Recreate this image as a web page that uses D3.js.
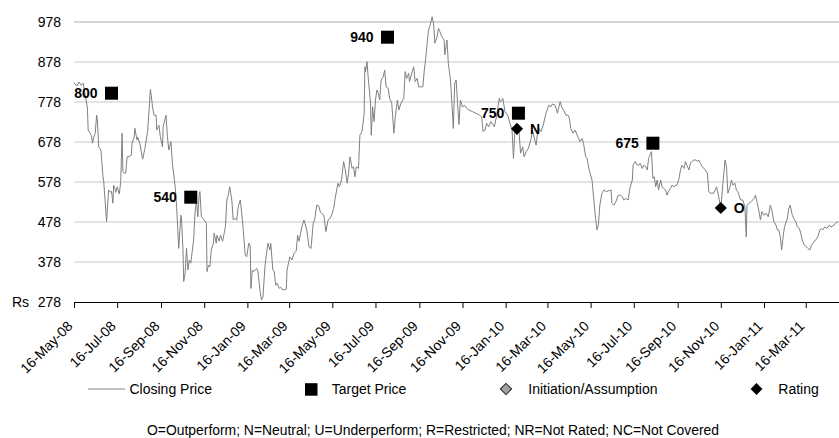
<!DOCTYPE html>
<html><head><meta charset="utf-8">
<script src="https://cdn.jsdelivr.net/npm/d3@7"></script>
<style>
body{margin:0;background:#fff}
svg{display:block;font-family:"Liberation Sans",Arial,Helvetica,sans-serif}
</style>
</head><body>
<svg id="chart" width="839" height="438"></svg>
<script>
const closeDates = [
"2008-05-16","2008-05-20","2008-05-23","2008-05-26","2008-05-29","2008-06-02","2008-06-04","2008-06-05","2008-06-08","2008-06-10",
"2008-06-11","2008-06-13","2008-06-15","2008-06-17","2008-06-18","2008-06-20","2008-06-23","2008-06-26","2008-06-27","2008-07-01",
"2008-07-03","2008-07-04","2008-07-07","2008-07-08","2008-07-10","2008-07-11","2008-07-13","2008-07-14","2008-07-16","2008-07-19",
"2008-07-21","2008-07-23","2008-07-24","2008-07-26","2008-07-28","2008-07-30","2008-08-02","2008-08-05","2008-08-06","2008-08-09",
"2008-08-10","2008-08-13","2008-08-14","2008-08-17","2008-08-21","2008-08-24","2008-08-28","2008-09-01","2008-09-04","2008-09-06",
"2008-09-09","2008-09-10","2008-09-13","2008-09-15","2008-09-18","2008-09-19","2008-09-23","2008-09-25","2008-09-27","2008-09-30",
"2008-10-02","2008-10-06","2008-10-08","2008-10-11","2008-10-14","2008-10-15","2008-10-17","2008-10-18","2008-10-20","2008-10-22",
"2008-10-24","2008-10-26","2008-10-28","2008-11-01","2008-11-03","2008-11-05","2008-11-07","2008-11-09","2008-11-10","2008-11-12",
"2008-11-16","2008-11-19","2008-11-20","2008-11-22","2008-11-24","2008-11-26","2008-11-29","2008-11-30","2008-12-03","2008-12-04",
"2008-12-07","2008-12-09","2008-12-12","2008-12-16","2008-12-18","2008-12-20","2008-12-22","2008-12-25","2008-12-27","2008-12-29",
"2009-01-01","2009-01-03","2009-01-06","2009-01-09","2009-01-13","2009-01-15","2009-01-18","2009-01-20","2009-01-21","2009-01-23",
"2009-01-25","2009-01-29","2009-01-31","2009-02-03","2009-02-05","2009-02-07","2009-02-10","2009-02-14","2009-02-17","2009-02-18",
"2009-02-21","2009-02-23","2009-02-25","2009-02-27","2009-03-02","2009-03-04","2009-03-07","2009-03-12","2009-03-13","2009-03-17",
"2009-03-20","2009-03-23","2009-03-26","2009-03-28","2009-03-30","2009-04-03","2009-04-06","2009-04-10","2009-04-13","2009-04-16",
"2009-04-17","2009-04-19","2009-04-21","2009-04-24","2009-04-27","2009-04-29","2009-05-01","2009-05-04","2009-05-07","2009-05-10",
"2009-05-13","2009-05-16","2009-05-18","2009-05-20","2009-05-24","2009-05-26","2009-05-29","2009-06-01","2009-06-03","2009-06-06",
"2009-06-08","2009-06-10","2009-06-13","2009-06-15","2009-06-17","2009-06-19","2009-06-22","2009-06-24","2009-06-27","2009-06-30",
"2009-07-01","2009-07-02","2009-07-04","2009-07-06","2009-07-09","2009-07-10","2009-07-12","2009-07-14","2009-07-16","2009-07-18",
"2009-07-20","2009-07-22","2009-07-24","2009-07-27","2009-07-29","2009-07-31","2009-08-03","2009-08-05","2009-08-08","2009-08-11",
"2009-08-13","2009-08-16","2009-08-18","2009-08-21","2009-08-25","2009-08-27","2009-08-29","2009-09-01","2009-09-02","2009-09-06",
"2009-09-08","2009-09-10","2009-09-13","2009-09-15","2009-09-19","2009-09-21","2009-09-23","2009-09-25","2009-09-27","2009-09-29",
"2009-10-02","2009-10-04","2009-10-06","2009-10-08","2009-10-11","2009-10-13","2009-10-15","2009-10-18","2009-10-21","2009-10-22",
"2009-10-25","2009-10-27","2009-10-30","2009-11-01","2009-11-03","2009-11-05","2009-11-07","2009-11-09","2009-11-11","2009-11-13",
"2009-11-16","2009-11-19","2009-11-22","2009-11-25","2009-11-30","2009-12-05","2009-12-10","2009-12-13","2009-12-15","2009-12-18",
"2009-12-20","2009-12-23","2009-12-26","2009-12-31","2010-01-03","2010-01-07","2010-01-08","2010-01-11","2010-01-12","2010-01-15",
"2010-01-19","2010-01-22","2010-01-25","2010-01-27","2010-01-29","2010-02-01","2010-02-04","2010-02-06","2010-02-09","2010-02-11",
"2010-02-14","2010-02-17","2010-02-21","2010-02-23","2010-02-25","2010-02-28","2010-03-02","2010-03-04","2010-03-07","2010-03-10",
"2010-03-14","2010-03-18","2010-03-21","2010-03-23","2010-03-27","2010-03-30","2010-04-03","2010-04-05","2010-04-09","2010-04-11",
"2010-04-14","2010-04-16","2010-04-18","2010-04-21","2010-04-24","2010-04-28","2010-05-01","2010-05-04","2010-05-06","2010-05-09",
"2010-05-11","2010-05-14","2010-05-18","2010-05-21","2010-05-23","2010-05-25","2010-05-27","2010-05-29","2010-06-01","2010-06-04",
"2010-06-07","2010-06-10","2010-06-14","2010-06-15","2010-06-18","2010-06-21","2010-06-24","2010-06-27","2010-06-30","2010-07-02",
"2010-07-05","2010-07-08","2010-07-11","2010-07-14","2010-07-15","2010-07-18","2010-07-21","2010-07-23","2010-07-25","2010-07-28",
"2010-07-30","2010-08-02","2010-08-04","2010-08-06","2010-08-09","2010-08-10","2010-08-12","2010-08-14","2010-08-16","2010-08-18",
"2010-08-20","2010-08-23","2010-08-25","2010-08-27","2010-08-30","2010-09-01","2010-09-03","2010-09-06","2010-09-08","2010-09-11",
"2010-09-13","2010-09-15","2010-09-18","2010-09-20","2010-09-22","2010-09-25","2010-09-27","2010-09-29","2010-10-02","2010-10-04",
"2010-10-06","2010-10-09","2010-10-12","2010-10-14","2010-10-16","2010-10-18","2010-10-21","2010-10-23","2010-10-25","2010-10-28",
"2010-10-30","2010-11-01","2010-11-06","2010-11-10","2010-11-12","2010-11-16","2010-11-17","2010-11-19","2010-11-22","2010-11-24",
"2010-11-26","2010-11-29","2010-12-01","2010-12-03","2010-12-06","2010-12-08","2010-12-10","2010-12-14","2010-12-17","2010-12-20",
"2010-12-22","2010-12-23","2010-12-26","2010-12-29","2011-01-02","2011-01-04","2011-01-06","2011-01-09","2011-01-11","2011-01-13",
"2011-01-16","2011-01-19","2011-01-22","2011-01-25","2011-01-27","2011-01-30","2011-02-02","2011-02-04","2011-02-06","2011-02-08",
"2011-02-10","2011-02-12","2011-02-14","2011-02-18","2011-02-20","2011-02-22","2011-02-25","2011-02-27","2011-03-02","2011-03-04",
"2011-03-07","2011-03-09","2011-03-11","2011-03-14","2011-03-17","2011-03-19","2011-03-22","2011-03-24","2011-03-26","2011-03-30",
"2011-04-02","2011-04-05","2011-04-07","2011-04-09","2011-04-12","2011-04-15","2011-04-18","2011-04-21","2011-04-25","2011-04-27",
"2011-05-01"
];
const closeValues = [
826,818,828,820,825,783,763,708,700,691,
675,690,700,745,733,666,658,591,579,479,
533,558,552,555,525,570,560,552,566,548,
579,700,604,600,600,641,642,645,675,690,
712,683,690,675,635,660,704,810,766,745,
745,708,720,691,666,716,745,691,658,679,
625,566,516,412,495,483,408,329,350,412,
358,383,375,433,500,533,491,550,554,491,
483,475,354,370,366,408,425,450,425,445,
430,445,430,466,533,545,566,533,483,487,
483,516,533,483,395,391,425,418,312,358,
354,362,354,304,283,290,370,425,408,425,
358,354,320,325,312,315,308,310,358,391,
383,400,405,445,430,466,483,458,416,412,
433,475,483,520,518,503,500,495,454,483,
487,500,512,537,575,566,583,629,612,575,
600,641,612,616,591,616,612,695,704,750,
866,854,879,833,775,695,766,729,783,808,
800,783,833,841,858,816,812,787,775,700,
741,783,758,775,787,854,837,850,829,854,
866,829,837,816,816,816,858,887,925,958,
975,991,975,925,941,962,954,941,933,896,
933,874,833,775,712,825,833,775,722,783,
766,770,762,758,754,750,745,741,704,708,
725,716,729,716,741,787,779,783,787,754,
745,725,708,637,704,711,700,650,666,641,
654,662,687,708,691,670,700,712,704,720,
750,770,766,773,770,750,779,766,754,745,
745,737,712,700,708,691,679,687,675,641,
637,608,583,525,487,458,470,520,550,558,
554,556,558,525,520,530,545,545,541,533,
537,533,566,583,620,629,620,620,625,612,
620,616,608,637,650,654,587,591,566,583,
558,583,566,562,558,545,554,562,570,566,
570,570,587,608,620,612,629,620,608,625,
629,633,633,629,633,625,616,612,608,600,
554,550,550,566,550,513,533,575,633,616,
550,566,583,570,575,558,554,533,533,516,
441,520,525,529,537,545,529,504,483,504,
495,500,491,520,508,479,470,458,458,441,
408,441,466,487,512,520,495,487,479,466,
462,450,433,420,416,412,408,420,425,433,
441,458,462,458,466,462,470,466,470,475,
479
];
const targetDates = ["2008-07-08","2008-10-28","2009-08-02","2010-02-03","2010-08-12"];
const targetValues = [800, 540, 940, 750, 675];
const ratingDates = ["2010-02-01","2010-11-16"];
const ratingValues = [711, 513];
const ratingLabels = ["N","O"];
const yTickValues = [278, 378, 478, 578, 678, 778, 878, 978];
const xTickLabels = ["16-May-08","16-Jul-08","16-Sep-08","16-Nov-08","16-Jan-09","16-Mar-09","16-May-09","16-Jul-09","16-Sep-09",
  "16-Nov-09","16-Jan-10","16-Mar-10","16-May-10","16-Jul-10","16-Sep-10","16-Nov-10","16-Jan-11","16-Mar-11"];
const xDomain = ["2008-05-16","2011-05-02"];
const legendLabels = ["Closing Price","Target Price","Initiation/Assumption","Rating"];
const footnote = "O=Outperform; N=Neutral; U=Underperform; R=Restricted; NR=Not Rated; NC=Not Covered";
const unitLabel = "Rs";

const parseISO = d3.utcParse("%Y-%m-%d");
const parseTick = d3.utcParse("%d-%b-%y");
const svg = d3.select("#chart");

const plotLeft = 74, plotRight = 839, plotTop = 22, plotBottom = 302;
const x = d3.scaleUtc().domain(xDomain.map(parseISO)).range([plotLeft, plotRight]);
const y = d3.scaleLinear().domain([278, 978]).range([plotBottom, plotTop]);

// gridlines
svg.append("g").selectAll("line").data(yTickValues.filter(v => v !== 278)).join("line")
  .attr("x1", plotLeft).attr("x2", plotRight)
  .attr("y1", d => y(d)).attr("y2", d => y(d))
  .attr("stroke", d => d === 978 ? "#d6d6d6" : "#c8c8c8")
  .attr("stroke-width", d => d === 978 ? 2 : 1);

// y axis labels
const yAxis = d3.axisLeft(y).tickValues(yTickValues).tickSize(0).tickPadding(0).tickFormat(d3.format("d"));
const gy = svg.append("g").attr("transform", `translate(${plotLeft - 13},0)`).call(yAxis);
gy.attr("font-family", null).attr("font-size", null);
gy.select(".domain").remove();
gy.selectAll("text").attr("font-size", 14).attr("fill", "#000");

svg.append("text").attr("x", 12).attr("y", y(278)).attr("dy", "0.35em")
  .attr("font-size", 14).attr("fill", "#000").text(unitLabel);

// x axis
const tickDates = xTickLabels.map(parseTick);
const xAxis = d3.axisBottom(x).tickValues(tickDates).tickFormat(d3.utcFormat("%d-%b-%y")).tickSizeOuter(0).tickSize(6);
const gx = svg.append("g").attr("transform", `translate(0,${plotBottom})`).call(xAxis);
gx.attr("font-family", null).attr("font-size", null);
gx.select(".domain").attr("stroke", "#000");
gx.selectAll(".tick line").attr("stroke", "#000");
gx.selectAll(".tick text")
  .attr("font-size", 14).attr("fill", "#000")
  .attr("text-anchor", "end").attr("x", 0).attr("y", 0).attr("dy", 0)
  .attr("transform", "translate(-1,25) rotate(-45)");

// closing price line
const series = closeDates.map((d, i) => ({date: parseISO(d), value: closeValues[i]}));
svg.append("path").datum(series)
  .attr("fill", "none").attr("stroke", "#808080").attr("stroke-width", 1)
  .attr("d", d3.line().x(d => x(d.date)).y(d => y(d.value)));

// target price markers
const targets = targetDates.map((d, i) => ({date: parseISO(d), value: targetValues[i]}));
const sq = 13;
svg.append("g").selectAll("rect").data(targets).join("rect")
  .attr("x", d => x(d.date) - sq / 2).attr("y", d => y(d.value) - sq / 2)
  .attr("width", sq).attr("height", sq).attr("fill", "#000");
svg.append("g").selectAll("text").data(targets).join("text")
  .attr("x", d => x(d.date) - 14).attr("y", d => y(d.value)).attr("dy", "0.35em")
  .attr("text-anchor", "end").attr("font-size", 14).attr("font-weight", "bold").attr("fill", "#000")
  .text(d => d.value);

// rating markers
const ratings = ratingDates.map((d, i) => ({date: parseISO(d), value: ratingValues[i], label: ratingLabels[i]}));
const dm = 8.6;
svg.append("g").selectAll("rect").data(ratings).join("rect")
  .attr("x", -dm / 2).attr("y", -dm / 2).attr("width", dm).attr("height", dm)
  .attr("transform", d => `translate(${x(d.date)},${y(d.value)}) rotate(45)`)
  .attr("fill", "#000");
svg.append("g").selectAll("text").data(ratings).join("text")
  .attr("x", d => x(d.date) + 13).attr("y", d => y(d.value)).attr("dy", "0.35em")
  .attr("font-size", 14).attr("font-weight", "bold").attr("fill", "#000")
  .text(d => d.label);

// legend
const ly = 389;
const lg = svg.append("g");
lg.append("line").attr("x1", 88).attr("x2", 125).attr("y1", ly).attr("y2", ly).attr("stroke", "#808080");
lg.append("rect").attr("x", 305).attr("y", ly - 5.8).attr("width", 12.5).attr("height", 12.5).attr("fill", "#000");
lg.append("rect").attr("x", -4).attr("y", -4).attr("width", 8).attr("height", 8)
  .attr("transform", `translate(506,${ly}) rotate(45)`).attr("fill", "#a0a0a0").attr("stroke", "#222").attr("stroke-width", 1);
lg.append("rect").attr("x", -4.2).attr("y", -4.2).attr("width", 8.4).attr("height", 8.4)
  .attr("transform", `translate(756.5,${ly}) rotate(45)`).attr("fill", "#000");
const legendX = [129.5, 331.7, 528.3, 778.3];
lg.selectAll("text").data(legendLabels).join("text")
  .attr("x", (d, i) => legendX[i]).attr("y", ly).attr("dy", "0.35em")
  .attr("font-size", 14).attr("fill", "#000").text(d => d);

// footnote
svg.append("text").attr("x", 147).attr("y", 435)
  .attr("font-size", 14).attr("fill", "#000")
  .attr("textLength", 572).attr("lengthAdjust", "spacingAndGlyphs")
  .text(footnote);
</script>
</body></html>
